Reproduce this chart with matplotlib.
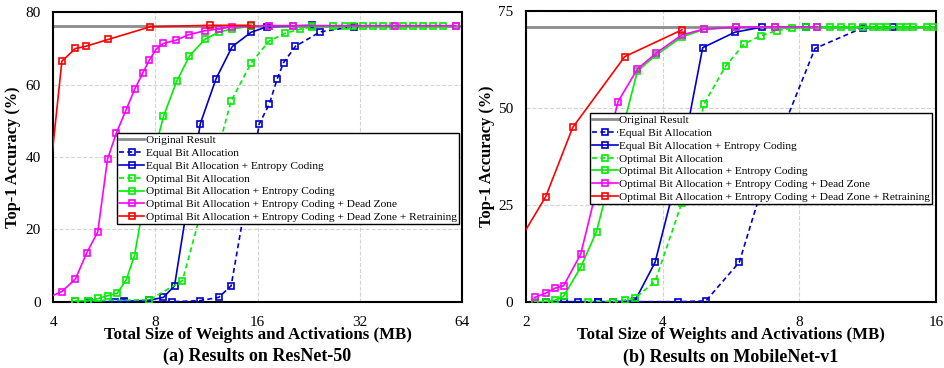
import matplotlib
import matplotlib.pyplot as plt

matplotlib.use("Agg")

plt.rcParams["font.family"] = ["Liberation Serif", "DejaVu Serif"]

# --------------------
# Dados - (a) ResNet-50
# --------------------
orig_a = 76.15
eq_a_x = [6.47, 8.96, 10.85, 12.30, 13.38, 16.2, 17.33, 18.29, 19.1, 20.7, 24.5, 30.7]
eq_a_y = [0.0, 0.0, 0.3, 1.2, 4.4, 49.2, 54.6, 61.6, 66.1, 70.6, 74.6, 76.0]
eqec_a_x = [5.09, 6.10, 6.47, 7.68, 8.45, 9.11, 10.85, 12.07, 13.47, 15.33, 17.07, 23.2]
eqec_a_y = [0.0, 0.0, 0.1, 0.4, 1.2, 4.4, 49.2, 61.6, 70.5, 74.5, 76.0, 76.4]
opt_a_x = [4.65, 5.05, 7.68, 9.61, 13.38, 15.33, 17.28, 19.29, 21.3, 23.2,
           26.7, 30.6, 35.0, 40.2, 46.0, 52.7, 61.6]
opt_a_y = [0.2, 0.3, 0.5, 5.8, 55.5, 66.0, 72.0, 74.2, 75.3, 76.0,
           76.1, 76.2, 76.2, 76.2, 76.2, 76.2, 76.2]
optec_a_x = [4.65, 5.05, 5.43, 5.81, 6.17, 6.56, 6.94, 7.68, 8.45, 9.24, 10.08,
             11.18, 12.30, 13.47, 15.33, 17.28, 20.3, 23.2, 29.0, 32.7, 37.5,
             43.0, 49.2, 56.4]
optec_a_y = [0.2, 0.3, 0.9, 1.7, 2.3, 6.0, 12.7, 36.0, 51.2, 60.9, 67.9,
             72.5, 74.5, 75.4, 76.2, 76.3, 76.3, 76.3, 76.3, 76.3, 76.3,
             76.3, 76.3, 76.3]
dz_a_x = [3.83, 4.24, 4.65, 5.02, 5.41, 5.78, 6.13, 6.56, 6.95, 7.34, 7.68,
          8.05, 8.45, 9.21, 10.03, 11.18, 12.30, 13.47, 17.28, 20.3, 40.6, 61.4]
dz_a_y = [1.0, 2.8, 6.3, 13.5, 19.3, 39.4, 46.5, 53.1, 58.7, 63.2, 66.8,
          69.9, 71.4, 72.3, 73.8, 74.9, 75.4, 76.0, 76.3, 76.3, 76.3, 76.3]
ret_a_x = [3.74, 4.24, 4.65, 4.99, 5.81, 7.73, 11.55, 15.33]
ret_a_y = [17.7, 66.5, 70.0, 70.6, 72.5, 76.0, 76.4, 76.4]
xticks_a = [4, 8, 16, 32, 64]
yticks_a = [0, 20, 40, 60, 80]

# --------------------
# Dados - (b) MobileNet-v1
# --------------------
orig_b = 70.95
eq_b_x = [2.886, 3.475, 4.33, 4.98, 5.90, 6.95, 8.66, 11.06, 12.84]
eq_b_y = [0.0, 0.0, 0.0, 0.2, 10.2, 37.5, 65.4, 70.8, 70.9]
eqec_b_x = [2.21, 2.42, 2.61, 2.886, 3.114, 3.475, 3.85, 4.40, 4.90, 5.77, 6.61, 8.27]
eqec_b_y = [0.0, 0.0, 0.0, 0.0, 0.0, 0.2, 10.2, 37.0, 65.6, 69.6, 70.9, 71.0]
opt_b_x = [2.74, 3.114, 3.30, 3.475, 3.85, 4.41, 4.93, 5.51, 6.05, 6.58, 7.13,
           7.69, 8.27, 9.34, 9.86, 11.03, 11.60, 12.45, 13.32, 14.25, 15.25]
opt_b_y = [0.0, 0.0, 0.4, 0.9, 5.2, 25.6, 51.0, 60.9, 66.6, 68.7, 70.0,
           70.6, 70.9, 70.9, 70.9, 70.9, 70.9, 70.9, 70.9, 70.9, 70.9]
optec_b_x = [2.09, 2.21, 2.32, 2.42, 2.64, 2.86, 3.19, 3.52, 3.87, 4.41, 4.93,
             5.80, 7.07, 8.76, 10.43, 12.04, 13.79, 15.78]
optec_b_y = [0.0, 0.0, 0.4, 1.4, 8.9, 18.1, 40.0, 59.6, 63.7, 68.4, 70.3,
             70.9, 70.9, 70.9, 70.9, 70.9, 70.9, 70.9]
dz_b_x = [2.09, 2.21, 2.32, 2.42, 2.64, 3.19, 3.52, 3.87, 4.41, 4.93, 5.80, 7.07, 8.76]
dz_b_y = [1.1, 2.2, 3.5, 4.1, 12.3, 51.7, 60.1, 64.2, 68.9, 70.4, 70.9, 71.0, 71.0]
ret_b_x = [1.85, 2.21, 2.535, 3.30, 4.41]
ret_b_y = [12.0, 27.1, 45.0, 63.3, 70.2]
xticks_b = [2, 4, 8, 16]
yticks_b = [0, 25, 50, 75]

labels = [
    "Original Result",
    "Equal Bit Allocation",
    "Equal Bit Allocation + Entropy Coding",
    "Optimal Bit Allocation",
    "Optimal Bit Allocation + Entropy Coding",
    "Optimal Bit Allocation + Entropy Coding + Dead Zone",
    "Optimal Bit Allocation + Entropy Coding + Dead Zone + Retraining",
]

BLUE = "#0000cc"
GREEN = "#00ee00"
MAGENTA = "#ff00ff"
RED = "#ff0000"
DASH = (0, (3, 2))


def draw_panel(ax, orig, series, xlim, xticks, yticks, caption, leg_anchor):
    ax.set_xscale("log", base=2)
    ax.axhline(orig, color="#8c8c8c", lw=2, label=labels[0], zorder=2)
    styles = [(BLUE, DASH), (BLUE, "-"), (GREEN, DASH), (GREEN, "-"),
              (MAGENTA, "-"), (RED, "-")]
    for (xs, ys), (c, ls), lab in zip(series, styles, labels[1:]):
        ax.plot(xs, ys, color=c, ls=ls, lw=1.2, marker="s", ms=5,
                mfc="none", mec=c, mew=1.2, label=lab, zorder=3)

    ax.set_xlim(xlim)
    ax.set_ylim(yticks[0], yticks[-1])
    ax.minorticks_off()
    ax.set_xticks(xticks)
    ax.set_xticklabels([str(t) for t in xticks])
    ax.set_yticks(yticks)
    ax.tick_params(length=0, labelsize=11, pad=9)
    ax.tick_params(axis="x", pad=10)
    ax.grid(True, ls="--", color="#d4d4d4", lw=0.8)
    for s in ax.spines.values():
        s.set_linewidth(1.5)

    ax.set_xlabel("Total Size of Weights and Activations (MB)",
                  fontsize=12.1, fontweight="bold")
    ax.xaxis.set_label_coords(0.5, -0.088)
    ax.set_ylabel("Top-1 Accuracy (%)", fontsize=11.8, fontweight="bold")
    ax.text(0.5, -0.19, caption, transform=ax.transAxes, ha="center",
            va="center", fontsize=13, fontweight="bold")

    leg = ax.legend(loc="upper right", bbox_to_anchor=leg_anchor, fontsize=8.2,
                    fancybox=False, framealpha=1, edgecolor="black",
                    borderpad=0.2, labelspacing=0.25, handlelength=2.2,
                    handletextpad=0.1, borderaxespad=0)
    leg.get_frame().set_linewidth(1.0)


fig = plt.figure(figsize=(9.45, 3.68), dpi=100)
ax_a = fig.add_axes([0.0564, 0.1802, 0.4322, 0.7864])
ax_b = fig.add_axes([0.5566, 0.1802, 0.4339, 0.7891])

series_a = [(eq_a_x, eq_a_y), (eqec_a_x, eqec_a_y), (opt_a_x, opt_a_y),
            (optec_a_x, optec_a_y), (dz_a_x, dz_a_y), (ret_a_x, ret_a_y)]
series_b = [(eq_b_x, eq_b_y), (eqec_b_x, eqec_b_y), (opt_b_x, opt_b_y),
            (optec_b_x, optec_b_y), (dz_b_x, dz_b_y), (ret_b_x, ret_b_y)]

draw_panel(ax_a, orig_a, series_a, (4, 64), xticks_a, yticks_a,
           "(a) Results on ResNet-50", (0.993, 0.583))
draw_panel(ax_b, orig_b, series_b, (2, 16), xticks_b, yticks_b,
           "(b) Results on MobileNet-v1", (0.990, 0.650))
ax_a.yaxis.set_label_coords(-0.078, 0.5)
ax_b.yaxis.set_label_coords(-0.076, 0.5)

fig.savefig("out.png", dpi=100)
plt.close(fig)
